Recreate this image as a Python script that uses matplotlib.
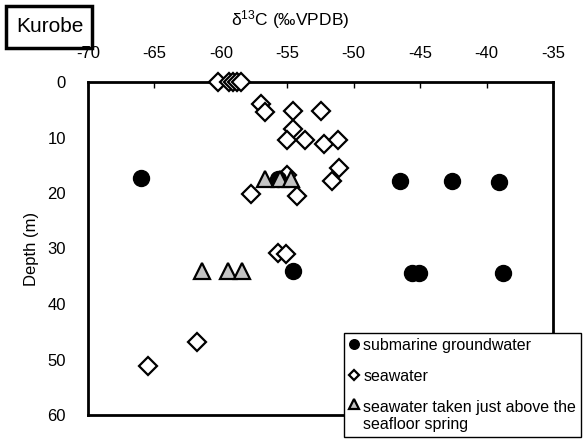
import matplotlib.pyplot as plt
from matplotlib.patches import Rectangle

plt.rcParams['font.family'] = ['Liberation Sans', 'DejaVu Sans']
plt.rcParams['axes.unicode_minus'] = False

# -----------------------------
# Data (d13C in permil VPDB, depth in m)
# -----------------------------
gw_d13c = [-66.0, -55.7, -46.5, -42.6, -39.1, -54.55, -45.6, -45.1, -38.75]
gw_depth = [17.3, 17.5, 17.9, 17.9, 18.0, 34.0, 34.4, 34.4, 34.5]

sw_d13c = [-60.2, -59.4, -59.1, -58.8, -58.5,
           -57.0, -56.7, -54.55, -52.5, -54.6,
           -55.0, -53.7, -52.2, -51.2, -51.1,
           -51.6, -55.05, -57.7, -54.25,
           -55.7, -55.1, -61.8, -65.5]
sw_depth = [0.0, 0.0, 0.0, 0.0, 0.0,
            4.0, 5.4, 5.3, 5.3, 8.4,
            10.4, 10.5, 11.1, 10.5, 15.5,
            17.8, 16.7, 20.2, 20.6,
            30.8, 31.0, 46.9, 51.2]

spring_d13c = [-56.7, -55.55, -54.75, -61.4, -59.5, -58.4]
spring_depth = [17.5, 17.5, 17.5, 34.0, 34.0, 34.0]

xticks = [-70, -65, -60, -55, -50, -45, -40, -35]
yticks = [0, 10, 20, 30, 40, 50, 60]

# -----------------------------
# Figure
# -----------------------------
fig = plt.figure(figsize=(5.87, 4.43), dpi=100)
ax = fig.add_axes([88 / 587, 1 - 415 / 443, 465 / 587, 333 / 443])

h_sw, = ax.plot(sw_d13c, sw_depth, linestyle="none", marker="D", markersize=9,
                markerfacecolor="white", markeredgecolor="black",
                markeredgewidth=1.6, clip_on=False, zorder=3)
h_gw, = ax.plot(gw_d13c, gw_depth, linestyle="none", marker="o", markersize=11.5,
                markerfacecolor="black", markeredgecolor="black",
                clip_on=False, zorder=4)
h_sp, = ax.plot(spring_d13c, spring_depth, linestyle="none", marker="^", markersize=12,
                markerfacecolor="#c4c4c4", markeredgecolor="black",
                markeredgewidth=1.6, clip_on=False, zorder=5)

ax.set_xlim(-70, -35)
ax.set_ylim(60, 0)
ax.set_xticks(xticks)
ax.set_yticks(yticks)
ax.xaxis.tick_top()
ax.tick_params(axis="x", direction="in", length=4, width=1, pad=15, labelsize=12)
ax.tick_params(axis="y", length=0, pad=16, labelsize=12)
for s in ax.spines.values():
    s.set_linewidth(2)

ax.set_ylabel("Depth (m)", fontsize=12, labelpad=6)
fig.text(290 / 587, 1 - 20 / 443, r"$\mathregular{\delta^{13}}$C (‰VPDB)",
         ha="center", va="center", fontsize=12.5)

# Site label box
fig.patches.append(Rectangle((6 / 587, 1 - 48 / 443), 86 / 587, 42 / 443,
                             transform=fig.transFigure, fill=False,
                             edgecolor="black", linewidth=2.5))
fig.text(50 / 587, 1 - 26 / 443, "Kurobe", ha="center", va="center", fontsize=15)

# Legend
leg = ax.legend([h_gw, h_sw, h_sp],
                ["submarine groundwater", "seawater",
                 "seawater taken just above the\nseafloor spring"],
                loc="upper left", bbox_to_anchor=(344 / 587, 1 - 333 / 443),
                bbox_transform=fig.transFigure, fontsize=11.5,
                markerscale=0.6, handlelength=0.6, handletextpad=0.3,
                labelspacing=1.0, borderpad=0.3, borderaxespad=0,
                fancybox=False, framealpha=1, edgecolor="black")
leg.get_frame().set_linewidth(1)
# put the triangle beside the first line of its two-line label
tri = leg.legend_handles[2]
tri.set_ydata([y + 9 for y in tri.get_ydata()])

fig.savefig("out.png", dpi=100)
